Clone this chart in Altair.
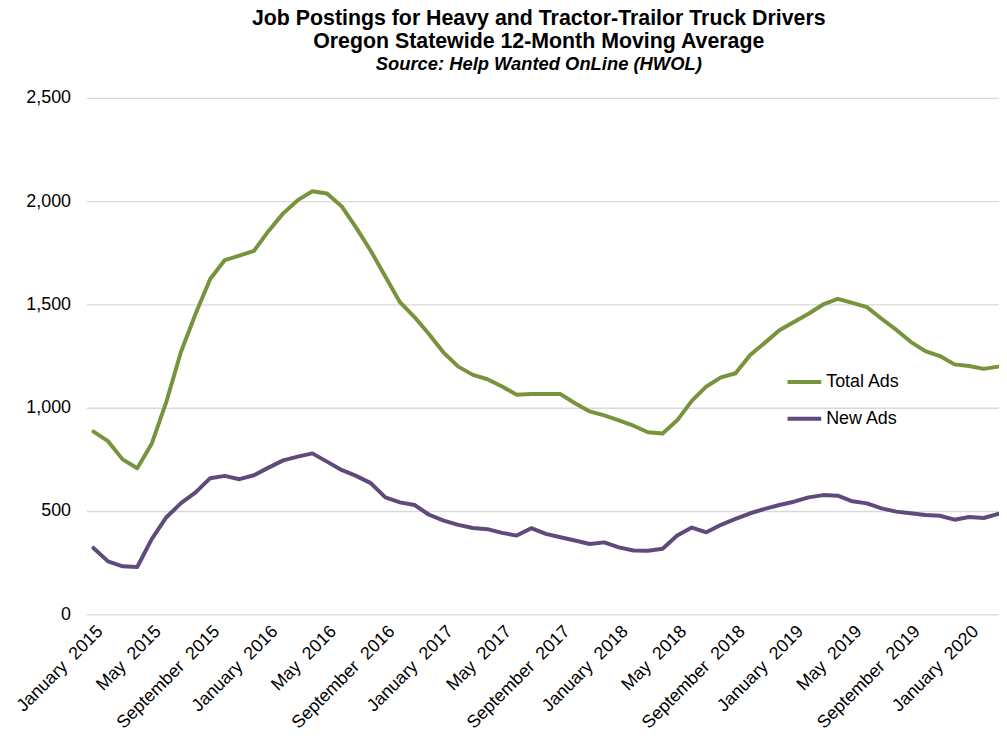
import altair as alt
import pandas as pd

# Jan 2015 .. Mar 2020, monthly 12-month moving averages
total_ads = [884, 838, 750, 707, 827, 1030, 1271, 1455, 1623, 1715, 1736, 1760,
             1856, 1941, 2005, 2048, 2037, 1976, 1872, 1760, 1635, 1511, 1439, 1356,
             1266, 1199, 1159, 1138, 1103, 1063, 1066, 1066, 1066, 1022, 982, 963,
             939, 913, 881, 875, 939, 1033, 1103, 1147, 1167, 1255, 1314, 1375,
             1415, 1455, 1500, 1527, 1508, 1487, 1431, 1378, 1319, 1274, 1250, 1210,
             1202, 1188, 1199]
new_ads = [321, 256, 232, 229, 365, 470, 538, 590, 659, 670, 654, 673,
           710, 745, 763, 779, 739, 699, 670, 635, 566, 542, 529, 482,
           453, 433, 418, 412, 394, 381, 417, 389, 373, 357, 340, 348,
           324, 309, 308, 317, 381, 420, 397, 433, 462, 489, 510, 529,
           545, 566, 577, 574, 547, 537, 513, 497, 489, 481, 477, 458,
           471, 466, 486]
tick_labels = ["January\u00a0 2015", "May\u00a0 2015", "September\u00a0 2015",
               "January\u00a0 2016", "May\u00a0 2016", "September\u00a0 2016",
               "January\u00a0 2017", "May\u00a0 2017", "September\u00a0 2017",
               "January\u00a0 2018", "May\u00a0 2018", "September\u00a0 2018",
               "January\u00a0 2019", "May\u00a0 2019", "September\u00a0 2019",
               "January\u00a0 2020"]
series_names = ["Total Ads", "New Ads"]
series_colors = ["#77933C", "#604A7B"]

rows = []
for i, v in enumerate(total_ads):
    rows.append({"m": i, "series": "Total Ads", "value": v})
for i, v in enumerate(new_ads):
    rows.append({"m": i, "series": "New Ads", "value": v})
df = pd.DataFrame(rows)

label_arr = "[" + ",".join("'" + t + "'" for t in tick_labels) + "]"
tick_vals = [4 * k for k in range(len(tick_labels))]

FONT = "Liberation Sans"

chart = alt.Chart(df).mark_line(strokeWidth=4, strokeCap="round", strokeJoin="round").encode(
    x=alt.X("m:Q",
            scale=alt.Scale(domain=[-0.48, 62.05], nice=False, zero=False),
            axis=alt.Axis(values=tick_vals, labelExpr=label_arr + "[datum.value/4]",
                          labelAngle=-45, labelAlign="right", labelBaseline="top",
                          labelPadding=8, labelFontSize=18, labelFont=FONT,
                          labelColor="#000000", domain=False, ticks=False, grid=False,
                          title=None, labelOverlap=False, labelBound=False, labelFlush=False)),
    y=alt.Y("value:Q",
            scale=alt.Scale(domain=[0, 2500], nice=False),
            axis=alt.Axis(values=[0, 500, 1000, 1500, 2000, 2500], format=",.0f",
                          labelFontSize=18, labelFont=FONT, labelColor="#000000",
                          labelPadding=16, domain=False, ticks=False,
                          gridColor="#D9D9D9", gridWidth=1.3, title=None)),
    color=alt.Color("series:N",
                    scale=alt.Scale(domain=series_names, range=series_colors),
                    legend=alt.Legend(title=None, orient="none", legendX=704, legendY=267,
                                      symbolType="stroke", symbolSize=1150,
                                      symbolStrokeWidth=4, labelFontSize=18,
                                      labelFont=FONT, labelColor="#000000",
                                      rowPadding=9, labelOffset=3, padding=0)),
).properties(
    width=919,
    height=520,
    autosize=alt.AutoSizeParams(type="none"),
    padding={"left": 79, "top": 88, "right": 0, "bottom": 116},
    title=alt.TitleParams(
        text=["Job Postings for Heavy and Tractor-Trailor Truck Drivers",
              "Oregon Statewide 12-Month Moving Average"],
        subtitle="Source:  Help Wanted OnLine (HWOL)",
        font=FONT, fontSize=21.5, fontWeight="bold", color="#000000", lineHeight=23,
        subtitleFont=FONT, subtitleFontSize=18.5, subtitleFontWeight="bold",
        subtitleFontStyle="italic", subtitleColor="#000000", subtitlePadding=2,
        anchor="middle", offset=16, dx=-4),
).configure_view(stroke=None)

chart.save("out.html", embed_options={"renderer": "svg", "actions": False})
